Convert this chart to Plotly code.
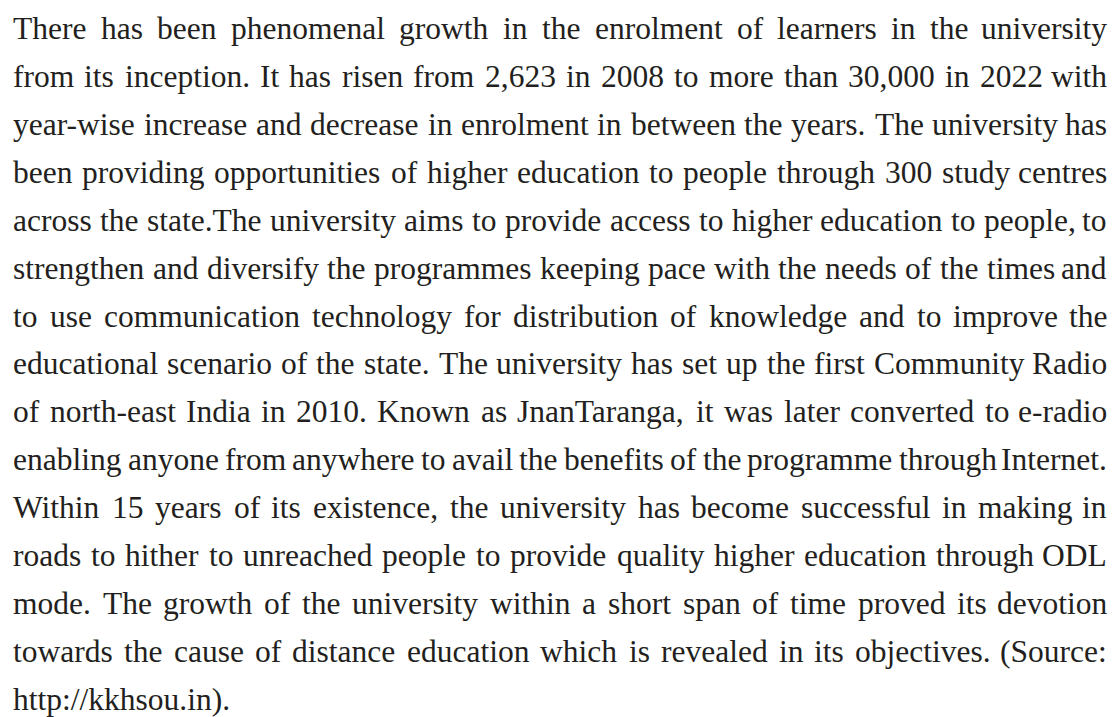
import plotly.graph_objects as go

# Paragraph content (one entry per printed line)
lines = [
    "There has been phenomenal growth in the enrolment of learners in the university",
    "from its inception. It has risen from 2,623 in 2008 to more than 30,000 in 2022 with",
    "year-wise increase and decrease in enrolment in between the years. The university has",
    "been providing opportunities of higher education to people through 300 study centres",
    "across the state.The university aims to provide access to higher education to people, to",
    "strengthen and diversify the programmes keeping pace with the needs of the times and",
    "to use communication technology for distribution of knowledge and to improve the",
    "educational scenario of the state. The university has set up the first Community Radio",
    "of north-east India in 2010. Known as JnanTaranga, it was later converted to e-radio",
    "enabling anyone from anywhere to avail the benefits of the programme through Internet.",
    "Within 15 years of its existence, the university has become successful in making in",
    "roads to hither to unreached people to provide quality higher education through ODL",
    "mode. The growth of the university within a short span of time proved its devotion",
    "towards the cause of distance education which is revealed in its objectives. (Source:",
    "http://kkhsou.in).",
]
justified = [True] * (len(lines) - 1) + [False]

# Layout constants
W, H = 1118, 717
FS = 31.5
LEFT, RIGHT = 12, 1108
BASE0, LEAD = 39.3, 47.9
COLOR = "#231f20"
FONT = "Liberation Serif, Times New Roman, serif"

# Times-compatible advance widths (per 1000 em)
_w = {
    " ": 250, "!": 333, '"': 408, "#": 500, "$": 500, "%": 833, "&": 778, "'": 333,
    "(": 333, ")": 333, "*": 500, "+": 564, ",": 250, "-": 333, ".": 250, "/": 278,
    ":": 278, ";": 278, "<": 564, "=": 564, ">": 564, "?": 444, "@": 921,
    "A": 722, "B": 667, "C": 667, "D": 722, "E": 611, "F": 556, "G": 722, "H": 722,
    "I": 333, "J": 389, "K": 722, "L": 611, "M": 889, "N": 722, "O": 722, "P": 556,
    "Q": 722, "R": 667, "S": 556, "T": 611, "U": 722, "V": 722, "W": 944, "X": 722,
    "Y": 722, "Z": 611,
    "a": 444, "b": 500, "c": 444, "d": 500, "e": 444, "f": 333, "g": 500, "h": 500,
    "i": 278, "j": 278, "k": 500, "l": 278, "m": 778, "n": 500, "o": 500, "p": 500,
    "q": 500, "r": 333, "s": 389, "t": 278, "u": 500, "v": 500, "w": 722, "x": 500,
    "y": 500, "z": 444,
}
for d in "0123456789":
    _w[d] = 500


def text_width(s):
    return sum(_w.get(c, 500) for c in s) * FS / 1000.0


fig = go.Figure()
annotations = []
ASC, DESC = 0.891, 0.216
for i, (line, just) in enumerate(zip(lines, justified)):
    baseline = BASE0 + i * LEAD
    yc = baseline - (ASC - DESC) / 2 * FS
    ypaper = 1 - yc / H
    words = line.split(" ")
    widths = [text_width(w) for w in words]
    if just and len(words) > 1:
        gap = (RIGHT - LEFT - sum(widths)) / (len(words) - 1)
    else:
        gap = text_width(" ")
    x = LEFT
    for k, (wd, ww) in enumerate(zip(words, widths)):
        if just and k == len(words) - 1:
            ax, anchor = RIGHT / W, "right"
        else:
            ax, anchor = x / W, "left"
        annotations.append(dict(
            x=ax, y=ypaper, xref="paper", yref="paper",
            xanchor=anchor, yanchor="middle", showarrow=False,
            text=wd, borderpad=0,
            font=dict(family=FONT, size=FS, color=COLOR),
        ))
        x += ww + gap

fig.update_layout(
    width=W, height=H,
    margin=dict(l=0, r=0, t=0, b=0),
    paper_bgcolor="white", plot_bgcolor="white",
    xaxis=dict(visible=False, range=[0, 1]),
    yaxis=dict(visible=False, range=[0, 1]),
    annotations=annotations,
    showlegend=False,
)
fig.write_html(
    "out.html",
    config={"displayModeBar": False},
    post_script="document.body.style.margin='0';document.body.style.overflow='hidden';",
)
